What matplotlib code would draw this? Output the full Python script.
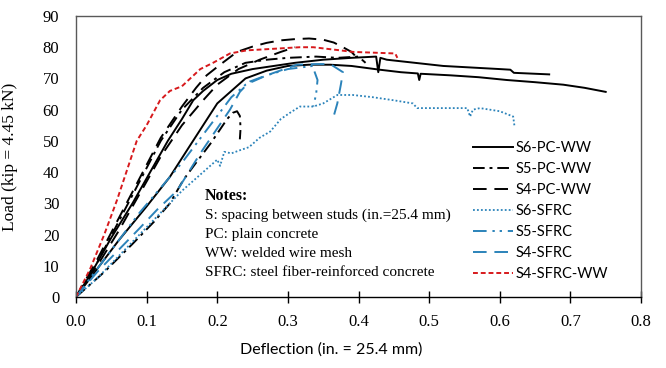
import matplotlib
matplotlib.use('Agg')
import matplotlib.pyplot as plt

# ── data (deflection in., load kip) ──
s6_pc_a_x = [0, 0.02, 0.05, 0.08, 0.105, 0.13, 0.15, 0.166, 0.18, 0.2, 0.22, 0.25, 0.28, 0.31, 0.35, 0.39,
             0.425, 0.428, 0.431, 0.44, 0.48, 0.52, 0.56, 0.6, 0.615, 0.62, 0.67]
s6_pc_a_y = [0, 7, 19, 30, 40, 50, 57, 63, 66, 69.5, 71.5, 73, 74, 75, 76, 76.6,
             77, 72, 76.6, 76, 75, 74, 73.5, 73, 72.8, 71.8, 71.3]
s6_pc_b_x = [0, 0.03, 0.06, 0.1, 0.133, 0.16, 0.18, 0.2, 0.22, 0.24, 0.27, 0.3, 0.33, 0.36, 0.39, 0.43,
             0.46, 0.484, 0.486, 0.488, 0.53, 0.57, 0.61, 0.65, 0.69, 0.72, 0.75]
s6_pc_b_y = [0, 9, 18, 29, 38.5, 48, 55, 62, 66, 70, 72.5, 74, 74.4, 74.4, 74, 72.8,
             72, 71.6, 69.5, 71.5, 71, 70.4, 69.5, 68.8, 68, 67, 65.7]
s5_pc_a_x = [0, 0.03, 0.06, 0.09, 0.12, 0.15, 0.18, 0.21, 0.24, 0.27, 0.3, 0.34, 0.37, 0.4, 0.41]
s5_pc_a_y = [0, 11, 24, 37, 50, 60, 67, 72, 75, 76, 76.6, 77, 76.6, 77, 75]
s5_pc_b_x = [0, 0.04, 0.08, 0.11, 0.133, 0.152, 0.17, 0.19, 0.205, 0.214, 0.222, 0.228, 0.232, 0.233, 0.232]
s5_pc_b_y = [0, 8, 17, 24, 30, 37.5, 43, 49, 54, 57, 59, 59.5, 58, 54, 50.5]
s4_pc_a_x = [0, 0.03, 0.06, 0.09, 0.12, 0.15, 0.17, 0.185, 0.204, 0.228, 0.25, 0.27, 0.29, 0.31, 0.33,
             0.35, 0.365, 0.378, 0.39, 0.398]
s4_pc_a_y = [0, 12, 25, 38, 51, 61, 67, 71, 74.4, 78.5, 80.2, 81.4, 82.2, 82.6, 82.8,
             82.4, 81.5, 80, 78.5, 76.6]
s4_pc_b_x = [0, 0.03, 0.06, 0.09, 0.12, 0.15, 0.18, 0.2, 0.23, 0.26, 0.29, 0.31]
s4_pc_b_y = [0, 10, 21, 33, 45, 55, 63, 68, 73, 76, 78.5, 80]
s6_sfrc_x = [0, 0.03, 0.06, 0.09, 0.12, 0.15, 0.17, 0.19, 0.2, 0.204, 0.21, 0.22, 0.232, 0.245, 0.26,
             0.275, 0.29, 0.303, 0.317, 0.336, 0.35, 0.37, 0.392, 0.42, 0.45, 0.477, 0.483, 0.52,
             0.554, 0.558, 0.562, 0.572, 0.6, 0.619, 0.621]
s6_sfrc_y = [0, 6, 13, 20, 27, 34, 38, 42, 44, 42, 46.5, 46, 47, 48, 51,
             53, 57, 59, 61, 61, 62, 64.7, 64.7, 64, 63, 62, 60.5, 60.5,
             60.5, 57.8, 60, 60.5, 59.5, 57.8, 54.5]
s5_sfrc_x = [0, 0.03, 0.06, 0.09, 0.12, 0.15, 0.18, 0.2, 0.22, 0.24, 0.27, 0.3, 0.335, 0.338, 0.342,
             0.34, 0.336]
s5_sfrc_y = [0, 9, 18, 27, 35, 43, 52, 58, 64, 68, 71, 73, 74, 72, 69.5, 65, 61]
s4_sfrc_x = [0, 0.03, 0.06, 0.09, 0.115, 0.143, 0.176, 0.2, 0.218, 0.232, 0.246, 0.27, 0.313, 0.34,
             0.36, 0.378, 0.375, 0.37, 0.365]
s4_sfrc_y = [0, 8, 15, 22, 28, 34, 46, 54, 60, 65.7, 69, 71, 74.4, 74.6, 74.6, 72, 68, 62, 58]
s4_sfrc_ww_x = [0, 0.02, 0.04, 0.058, 0.086, 0.1, 0.119, 0.133, 0.15, 0.176, 0.194, 0.218, 0.242,
                0.28, 0.317, 0.336, 0.374, 0.392, 0.452, 0.455]
s4_sfrc_ww_y = [0, 9, 20, 31, 50, 55, 63, 66, 67.5, 73, 75, 78, 79, 79.5, 80, 80, 79, 78.5, 78, 76.6]

xticks = [0.0, 0.1, 0.2, 0.3, 0.4, 0.5, 0.6, 0.7, 0.8]
yticks = [0, 10, 20, 30, 40, 50, 60, 70, 80, 90]
notes = ['S: spacing between studs (in.=25.4 mm)', 'PC: plain concrete',
         'WW: welded wire mesh', 'SFRC: steel fiber-reinforced concrete']

BLUE = '#2b83ba'; RED = '#d7191c'
serif = 'Liberation Serif'

fig = plt.figure(figsize=(6.66, 3.68), dpi=100)
ax = fig.add_axes([76/666, 1-297/368, 565/666, 281/368])

ax.plot(s6_pc_a_x, s6_pc_a_y, color='black', lw=1.4, label='S6-PC-WW')
ax.plot(s6_pc_b_x, s6_pc_b_y, color='black', lw=1.4)
ax.plot(s5_pc_a_x, s5_pc_a_y, color='black', lw=1.4, ls=(0, (6, 2.5, 1.5, 2.5)), label='S5-PC-WW')
ax.plot(s5_pc_b_x, s5_pc_b_y, color='black', lw=1.4, ls=(0, (6, 2.5, 1.5, 2.5)))
ax.plot(s4_pc_a_x, s4_pc_a_y, color='black', lw=1.4, ls=(0, (7, 4)), label='S4-PC-WW')
ax.plot(s4_pc_b_x, s4_pc_b_y, color='black', lw=1.4, ls=(0, (7, 4)))
ax.plot(s6_sfrc_x, s6_sfrc_y, color=BLUE, lw=1.3, ls=(0, (1, 1.2)), label='S6-SFRC')
ax.plot(s5_sfrc_x, s5_sfrc_y, color=BLUE, lw=1.4, ls=(0, (7, 3, 1.2, 2.5, 1.2, 3)), label='S5-SFRC')
ax.plot(s4_sfrc_x, s4_sfrc_y, color=BLUE, lw=1.4, ls=(0, (7, 4)), label='S4-SFRC')
ax.plot(s4_sfrc_ww_x, s4_sfrc_ww_y, color=RED, lw=1.4, ls=(0, (2.5, 1.5)), label='S4-SFRC-WW')

ax.set_xlim(0, 0.8); ax.set_ylim(0, 90)
ax.set_xticks(xticks); ax.set_yticks(yticks)
ax.set_xticklabels([f'{v:.1f}' for v in xticks], fontfamily=serif, fontsize=12)
ax.set_yticklabels([str(v) for v in yticks], fontfamily=serif, fontsize=12)
ax.tick_params(axis='x', direction='inout', length=8, width=1, pad=8)
ax.tick_params(axis='y', length=0, pad=12)
for s in ['left', 'top', 'right']:
    ax.spines[s].set_color('#595959'); ax.spines[s].set_linewidth(1)
ax.spines['bottom'].set_color('black'); ax.spines['bottom'].set_linewidth(1)

ax.set_ylabel('Load (kip = 4.45 kN)', fontfamily=serif, fontsize=12.5)
ax.yaxis.set_label_coords(-0.103, 0.5)
ax.set_xlabel('Deflection (in. = 25.4 mm)', fontfamily='Lato', fontsize=11.5)
ax.xaxis.set_label_coords(0.451, -0.16)

# notes block
ax.text(205, 368-200, 'Notes:', transform=None, fontfamily=serif, fontsize=11.5, fontweight='bold', va='baseline')
for i, line in enumerate(notes):
    ax.text(205, 368-(219+19*i), line, transform=None, fontfamily=serif, fontsize=11, va='baseline')

leg = ax.legend(loc='lower right', bbox_to_anchor=(0.952, 0.035), frameon=False, handlelength=2.75,
                handletextpad=0.2, labelspacing=0.48, borderaxespad=0,
                prop={'family': 'Lato', 'size': 10.5})

plt.savefig('out.png', dpi=100, facecolor='white')
plt.close(); print("  Saved out.png")
